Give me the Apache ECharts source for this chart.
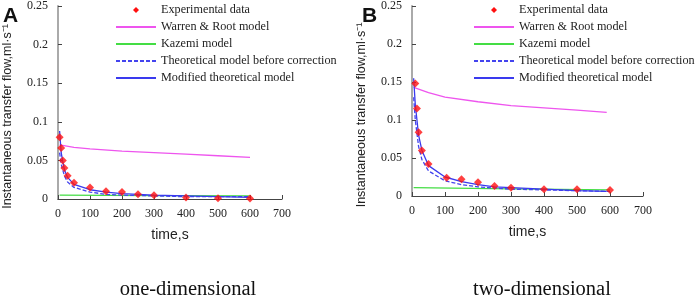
<!DOCTYPE html>
<html>
<head>
<meta charset="utf-8">
<script src="https://cdn.jsdelivr.net/npm/echarts@6/dist/echarts.min.js"></script>
<style>
  html, body { margin: 0; padding: 0; background: #fff; }
  #main { width: 699px; height: 296px; }
</style>
</head>
<body>
<div id="main"></div>
<script>
// panel A (one-dimensional)
var expA = [[5, 0.08], [10, 0.066], [15, 0.05], [20, 0.04], [30, 0.03], [50, 0.021], [100, 0.015], [150, 0.01], [200, 0.009], [250, 0.006], [300, 0.005], [400, 0.002], [500, 0.001], [600, 0.0005]];
var warrenA = [[5, 0.070], [50, 0.067], [100, 0.065], [200, 0.062], [300, 0.060], [400, 0.058], [500, 0.056], [600, 0.054]];
var kazemiA = [[5, 0.005], [300, 0.0045], [600, 0.004]];
var theoryA = [[5, 0.06], [10, 0.045], [20, 0.03], [30, 0.022], [50, 0.015], [100, 0.009], [150, 0.006], [200, 0.005], [300, 0.004], [400, 0.003], [500, 0.003], [600, 0.003]];
var modifiedA = [[5, 0.088], [10, 0.06], [15, 0.048], [20, 0.038], [30, 0.028], [50, 0.019], [100, 0.012], [150, 0.009], [200, 0.007], [300, 0.005], [400, 0.004], [500, 0.003], [600, 0.002]];

// panel B (two-dimensional)
var expB = [[10, 0.148], [15, 0.115], [20, 0.084], [30, 0.06], [50, 0.042], [105, 0.024], [150, 0.022], [200, 0.018], [250, 0.013], [300, 0.011], [400, 0.009], [500, 0.009], [600, 0.008]];
var warrenB = [[5, 0.143], [50, 0.136], [100, 0.130], [200, 0.124], [300, 0.119], [400, 0.116], [500, 0.113], [590, 0.110]];
var kazemiB = [[5, 0.011], [300, 0.0095], [600, 0.008]];
var theoryB = [[5, 0.13], [10, 0.1], [20, 0.065], [30, 0.048], [50, 0.033], [100, 0.02], [150, 0.015], [200, 0.012], [300, 0.009], [400, 0.008], [500, 0.007], [600, 0.006]];
var modifiedB = [[5, 0.155], [10, 0.12], [20, 0.08], [30, 0.06], [50, 0.04], [100, 0.025], [150, 0.019], [200, 0.015], [250, 0.012], [300, 0.011], [400, 0.009], [500, 0.007], [590, 0.006]];

var seriesNames = ['Experimental data', 'Warren & Root model', 'Kazemi model', 'Theoretical model before correction', 'Modified theoretical model'];
var panelTitles = ['one-dimensional', 'two-dimensional'];
var panelLetters = ['A', 'B'];
var yName = 'Instantaneous transfer flow,ml·s\u207B\u00B9';

var serif = '"Liberation Serif", "Times New Roman", serif';
var sans = '"Liberation Sans", Arial, sans-serif';

// small diamond in the middle of a 40x10 legend box (the moveTo's set the box)
var legendDiamond = 'path://M0,0M40,10M20,2L23,5L20,8L17,5Z';

function xAx(gi) {
    return {
        type: 'value', gridIndex: gi, min: 0, max: 700, interval: 100,
        name: 'time,s', nameLocation: 'middle', nameGap: 29,
        nameTextStyle: { fontFamily: sans, fontSize: 14, color: '#222' },
        axisLine: { lineStyle: { color: '#444', width: 1 } },
        axisTick: { inside: true, length: 4, lineStyle: { color: '#444' } },
        axisLabel: { fontFamily: serif, fontSize: 12, color: '#222', margin: 9 },
        splitLine: { show: false }
    };
}
function yAx(gi) {
    return {
        type: 'value', gridIndex: gi, min: 0, max: 0.25, interval: 0.05,
        name: yName, nameLocation: 'middle', nameGap: 44,
        nameTextStyle: { fontFamily: sans, fontSize: 12.5, color: '#222', padding: [0, 28, 0, 0] },
        axisLine: { show: true, lineStyle: { color: '#aaa', width: 2 } },
        axisTick: { show: true, inside: true, length: 4, lineStyle: { color: '#444' } },
        axisLabel: { fontFamily: serif, fontSize: 12, color: '#222', margin: 10 },
        splitLine: { show: false }
    };
}
function lineSeries(name, gi, data, color, dashed) {
    return {
        name: name, type: 'line', xAxisIndex: gi, yAxisIndex: gi,
        data: data, symbol: 'none', smooth: false,
        lineStyle: { color: color, width: 1.3, type: dashed ? [4, 2] : 'solid' },
        itemStyle: { color: color },
        z: 2
    };
}
function expSeries(gi, data) {
    return {
        name: seriesNames[0], type: 'scatter', xAxisIndex: gi, yAxisIndex: gi,
        data: data, symbol: 'diamond', symbolSize: 8,
        itemStyle: { color: '#ff1010' }, z: 5
    };
}
function legendAt(left) {
    return {
        orient: 'vertical', left: left, top: 4, itemGap: 5, padding: 0,
        itemWidth: 40, itemHeight: 10,
        itemStyle: { opacity: 0 },
        textStyle: { fontFamily: serif, fontSize: 12.2, color: '#222' },
        data: [{ name: seriesNames[0], icon: legendDiamond, itemStyle: { color: '#ff1010', opacity: 1 } }].concat(seriesNames.slice(1))
    };
}

var colors = { warren: '#ee55ee', kazemi: '#44dd44', theory: '#4444ee', modified: '#3a3aee' };

var chart = echarts.init(document.getElementById('main'));
var option = {
    animation: false,
    backgroundColor: '#fff',
    grid: [
        { left: 55, top: 4, width: 227, height: 195 },
        { left: 412, top: 4, width: 231, height: 192 }
    ],
    xAxis: [xAx(0), xAx(1)],
    yAxis: [yAx(0), yAx(1)],
    legend: [legendAt(115), legendAt(473)],
    title: [
        { text: panelTitles[0], left: 183, textAlign: 'center', top: 274, textStyle: { fontFamily: serif, fontSize: 20.5, fontWeight: 'normal', color: '#111' } },
        { text: panelTitles[1], left: 537, textAlign: 'center', top: 274, textStyle: { fontFamily: serif, fontSize: 20.5, fontWeight: 'normal', color: '#111' } },
        { text: panelLetters[0], left: -2, top: 1, textStyle: { fontFamily: sans, fontSize: 21, fontWeight: 'bold', color: '#111' } },
        { text: panelLetters[1], left: 357, top: 1, textStyle: { fontFamily: sans, fontSize: 21, fontWeight: 'bold', color: '#111' } }
    ],
    series: [
        lineSeries(seriesNames[1], 0, warrenA, colors.warren),
        lineSeries(seriesNames[2], 0, kazemiA, colors.kazemi),
        lineSeries(seriesNames[3], 0, theoryA, colors.theory, true),
        lineSeries(seriesNames[4], 0, modifiedA, colors.modified),
        expSeries(0, expA),
        lineSeries(seriesNames[1], 1, warrenB, colors.warren),
        lineSeries(seriesNames[2], 1, kazemiB, colors.kazemi),
        lineSeries(seriesNames[3], 1, theoryB, colors.theory, true),
        lineSeries(seriesNames[4], 1, modifiedB, colors.modified),
        expSeries(1, expB)
    ]
};
chart.setOption(option);
window.addEventListener('resize', function () {
    chart.resize();
});
</script>
</body>
</html>
